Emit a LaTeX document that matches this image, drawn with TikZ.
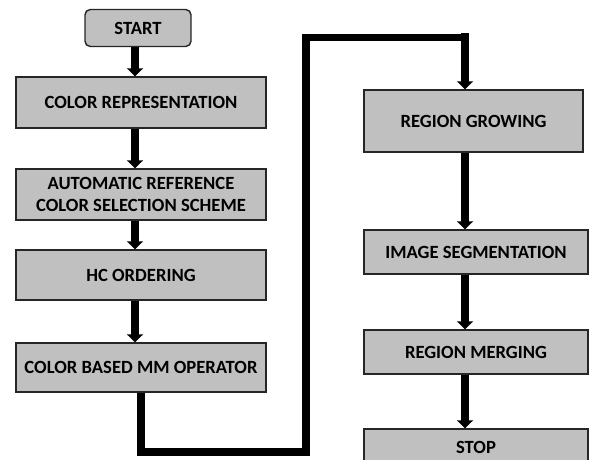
\documentclass[tikz,border=0pt]{standalone}
\usepackage{fontspec}
\setmainfont{Carlito}
\usepackage{tikz}
\usetikzlibrary{arrows.meta,positioning,calc}
\definecolor{boxgray}{RGB}{192,192,192}
\tikzset{
  procbox/.style={rectangle, draw=black!85, line width=0.8pt, fill=boxgray, align=center, inner sep=1pt, font=\fontsize{10.6}{13}\selectfont\bfseries},
  termbox/.style={procbox, rounded corners=3pt},
  flowarr/.style={-{Triangle[width=9pt,length=4.5pt]}, line width=4.3pt, black},
  flowline/.style={line width=4.3pt, black, line join=miter},
}

\begin{document}
\begin{tikzpicture}
\useasboundingbox (0,0) rectangle (11.78,-9.18);
\clip (0,0) rectangle (11.78,-9.18);
% --- left column ---
\node[termbox, minimum width=2.12cm, minimum height=0.74cm] (start) at (2.76,-0.56) {START};
\node[procbox, minimum width=5cm, minimum height=1.02cm] (colrep) at (2.82,-2.05) {COLOR REPRESENTATION};
\node[procbox, minimum width=5cm, minimum height=1.02cm] (autoref) at (2.82,-3.89) {AUTOMATIC REFERENCE\\COLOR SELECTION SCHEME};
\node[procbox, minimum width=5cm, minimum height=1.0cm] (hcord) at (2.82,-5.50) {HC ORDERING};
\node[procbox, minimum width=5cm, minimum height=0.98cm] (mmop) at (2.82,-7.35) {COLOR BASED MM OPERATOR};
% --- right column ---
\node[procbox, minimum width=4.38cm, minimum height=1.24cm] (reggrow) at (9.47,-2.42) {REGION GROWING};
\node[procbox, minimum width=4.48cm, minimum height=0.88cm] (imgseg) at (9.52,-5.04) {IMAGE SEGMENTATION};
\node[procbox, minimum width=4.48cm, minimum height=0.88cm] (regmerge) at (9.52,-7.04) {REGION MERGING};
\node[procbox, minimum width=4.48cm, minimum height=0.72cm] (stop) at (9.52,-8.94) {STOP};
% --- connectors ---
\coordinate (lcol) at (2.70,0);
\coordinate (rcol) at (9.30,0);
\coordinate (bend1) at (6.12,-9.04);
\coordinate (bend2) at (6.12,-0.75);
\draw[flowarr] (lcol |- start.south) -- (lcol |- colrep.north);
\draw[flowarr] (lcol |- colrep.south) -- (lcol |- autoref.north);
\draw[flowarr] (lcol |- autoref.south) -- (lcol |- hcord.north);
\draw[flowarr] (lcol |- hcord.south) -- (lcol |- mmop.north);
\draw[flowline] (mmop.south) |- (bend1) -- (bend2) -- (bend2 -| rcol);
\draw[flowarr] (bend2 -| rcol) ++(0,0.086) -- (rcol |- reggrow.north);
\draw[flowarr] (rcol |- reggrow.south) -- (rcol |- imgseg.north);
\draw[flowarr] (rcol |- imgseg.south) -- (rcol |- regmerge.north);
\draw[flowarr] (rcol |- regmerge.south) -- (rcol |- stop.north);
\end{tikzpicture}
\end{document}
